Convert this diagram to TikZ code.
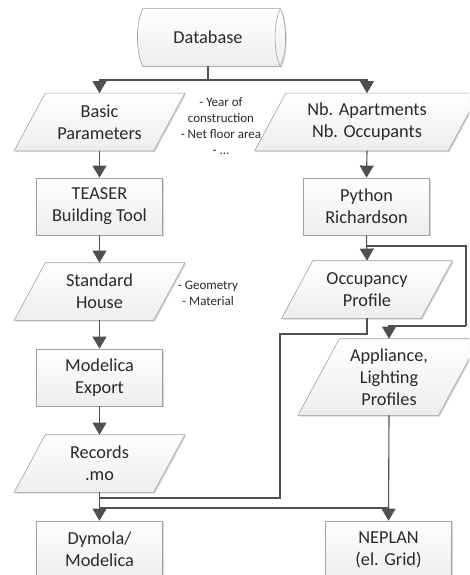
\documentclass[tikz,border=0pt]{standalone}
\usepackage{fontspec}
\setmainfont{Carlito}
\usetikzlibrary{arrows.meta,shadows,calc}
\makeatletter
\pgfdeclareshape{parabox}{
  \inheritsavedanchors[from=rectangle]
  \inheritanchorborder[from=rectangle]
  \inheritanchor[from=rectangle]{center}
  \inheritanchor[from=rectangle]{north}
  \inheritanchor[from=rectangle]{south}
  \inheritanchor[from=rectangle]{east}
  \inheritanchor[from=rectangle]{west}
  \backgroundpath{
    \southwest \pgf@xa=\pgf@x \pgf@ya=\pgf@y
    \northeast \pgf@xb=\pgf@x \pgf@yb=\pgf@y
    \pgfmathsetlength\pgf@xc{0.27*(\pgf@yb-\pgf@ya)}
    \pgfpathmoveto{\pgfqpoint{\dimexpr\pgf@xa-\pgf@xc\relax}{\pgf@ya}}
    \pgfpathlineto{\pgfqpoint{\dimexpr\pgf@xa+\pgf@xc\relax}{\pgf@yb}}
    \pgfpathlineto{\pgfqpoint{\dimexpr\pgf@xb+\pgf@xc\relax}{\pgf@yb}}
    \pgfpathlineto{\pgfqpoint{\dimexpr\pgf@xb-\pgf@xc\relax}{\pgf@ya}}
    \pgfpathclose
  }
}
\def\dbcoords{%
  \southwest \edef\dbl{\the\pgf@x}\edef\dbb{\the\pgf@y}%
  \northeast \edef\dbr{\the\pgf@x}\edef\dbt{\the\pgf@y}%
  \edef\dbc{\the\dimexpr(\dbt-\dbb)/4\relax}%
  \edef\dbbq{\the\dimexpr\dbb+\dbc\relax}%
  \edef\dbtq{\the\dimexpr\dbt-\dbc\relax}%
  \edef\dblin{\the\dimexpr\dbl+7pt\relax}%
  \edef\dbrout{\the\dimexpr\dbr+7pt\relax}%
  \edef\dbrin{\the\dimexpr\dbr-7pt\relax}%
}
\pgfdeclareshape{dbbox}{
  \inheritsavedanchors[from=rectangle]
  \inheritanchorborder[from=rectangle]
  \inheritanchor[from=rectangle]{center}
  \inheritanchor[from=rectangle]{north}
  \inheritanchor[from=rectangle]{south}
  \inheritanchor[from=rectangle]{east}
  \inheritanchor[from=rectangle]{west}
  \backgroundpath{
    \dbcoords
    \pgfpathmoveto{\pgfqpoint{\dblin}{\dbb}}
    \pgfpathcurveto{\pgfqpoint{\dbl}{\dbbq}}{\pgfqpoint{\dbl}{\dbtq}}{\pgfqpoint{\dblin}{\dbt}}
    \pgfpathlineto{\pgfqpoint{\dbr}{\dbt}}
    \pgfpathcurveto{\pgfqpoint{\dbrout}{\dbtq}}{\pgfqpoint{\dbrout}{\dbbq}}{\pgfqpoint{\dbr}{\dbb}}
    \pgfpathclose
  }
  \beforeforegroundpath{
    \dbcoords
    \pgfpathmoveto{\pgfqpoint{\dbr}{\dbt}}
    \pgfpathcurveto{\pgfqpoint{\dbrin}{\dbtq}}{\pgfqpoint{\dbrin}{\dbbq}}{\pgfqpoint{\dbr}{\dbb}}
    \pgfsetstrokecolor{boxline}
    \pgfsetlinewidth{0.6pt}
    \pgfusepath{stroke}
  }
}
\makeatother
\definecolor{boxline}{HTML}{A0A0A0}
\definecolor{wire}{HTML}{505050}
\definecolor{ink}{HTML}{2A2A2A}
\tikzset{
  boxbase/.style={draw=boxline,line width=0.6pt,top color=white,bottom color=black!7,
    inner sep=0pt,align=center,text=ink,font=\fontsize{18.3}{22}\selectfont,
    drop shadow={shadow xshift=1.2pt,shadow yshift=-1.2pt,fill=black,opacity=0.16}},
  procbox/.style={boxbase,rectangle,minimum width=126.5pt,minimum height=57pt},
  iobox/.style={boxbase,shape=parabox,minimum width=139pt,minimum height=57pt},
  dbnode/.style={boxbase,shape=dbbox,minimum width=144pt,minimum height=57pt},
  note/.style={inner sep=0pt,align=center,text=ink,font=\fontsize{13}{16}\selectfont},
  wireline/.style={draw=wire,line width=1.1pt},
  flow/.style={wireline,-{Triangle[scale=2.1]}}
}
\begin{document}
\begin{tikzpicture}[x=1pt,y=-1pt]
\useasboundingbox (0,0) rectangle (469,575);
\clip (0,0) rectangle (469,575);
\node[dbnode] (db) at (208,37.5) {Database};
\node[iobox] (bp) at (99.5,122) {Basic\\Parameters};
\node[iobox,minimum width=193pt] (nb) at (367,122) {Nb. Apartments\\Nb. Occupants};
\node[procbox] (teaser) at (99.5,206.5) {TEASER\\Building Tool};
\node[procbox] (python) at (366.5,206.5) {Python\\Richardson};
\node[iobox] (house) at (99.5,291.5) {Standard\\House};
\node[iobox] (occ) at (367,289.5) {Occupancy\\Profile};
\node[iobox,minimum width=140pt,minimum height=76pt] (app) at (389,377) {Appliance,\\Lighting\\Profiles};
\node[procbox] (export) at (99.5,377.5) {Modelica\\Export};
\node[iobox] (rec) at (99.5,463.5) {Records\\.mo};
\node[procbox] (dym) at (99.5,549.5) {Dymola/\\Modelica};
\node[procbox] (nep) at (388.5,549.5) {NEPLAN\\(el. Grid)};
\node[note] (n1) at (221,126.5) {- Year of\\construction\\- Net floor area\\- ...};
\node[note] (n2) at (208,293) {- Geometry\\- Material};

\coordinate (split) at (208,80);
\coordinate (pysplit) at (366.5,246);
\coordinate (loopa) at (466,246);
\coordinate (loopb) at (466,326);
\coordinate (occa) at (367,334);
\coordinate (occb) at (280,334);
\coordinate (occc) at (280,498);
\coordinate (occd) at (99.5,498);
\coordinate (busa) at (99.5,508);
\coordinate (busb) at (389,508);

\draw[wireline] (db.south) -- (split);
\draw[flow] (split) -| (bp.north);
\draw[flow] (split) -| (nb.north);
\draw[flow] (bp.south) -- (teaser.north);
\draw[flow] (nb.south) -- (python.north);
\draw[flow] (teaser.south) -- (house.north);
\draw[flow] (house.south) -- (export.north);
\draw[flow] (export.south) -- (rec.north);
\draw[flow] (rec.south) -- (dym.north);
\draw[flow] (python.south) -- (occ.north);
\draw[wireline] (pysplit) -- (loopa) -- (loopb);
\draw[flow] (loopb) -| (app.north);
\draw[wireline] (occ.south) -- (occa) -- (occb) -- (occc) -- (occd);
\draw[flow] (app.south) -- (nep.north);
\draw[wireline] (busb) -- (busa);
\end{tikzpicture}
\end{document}
